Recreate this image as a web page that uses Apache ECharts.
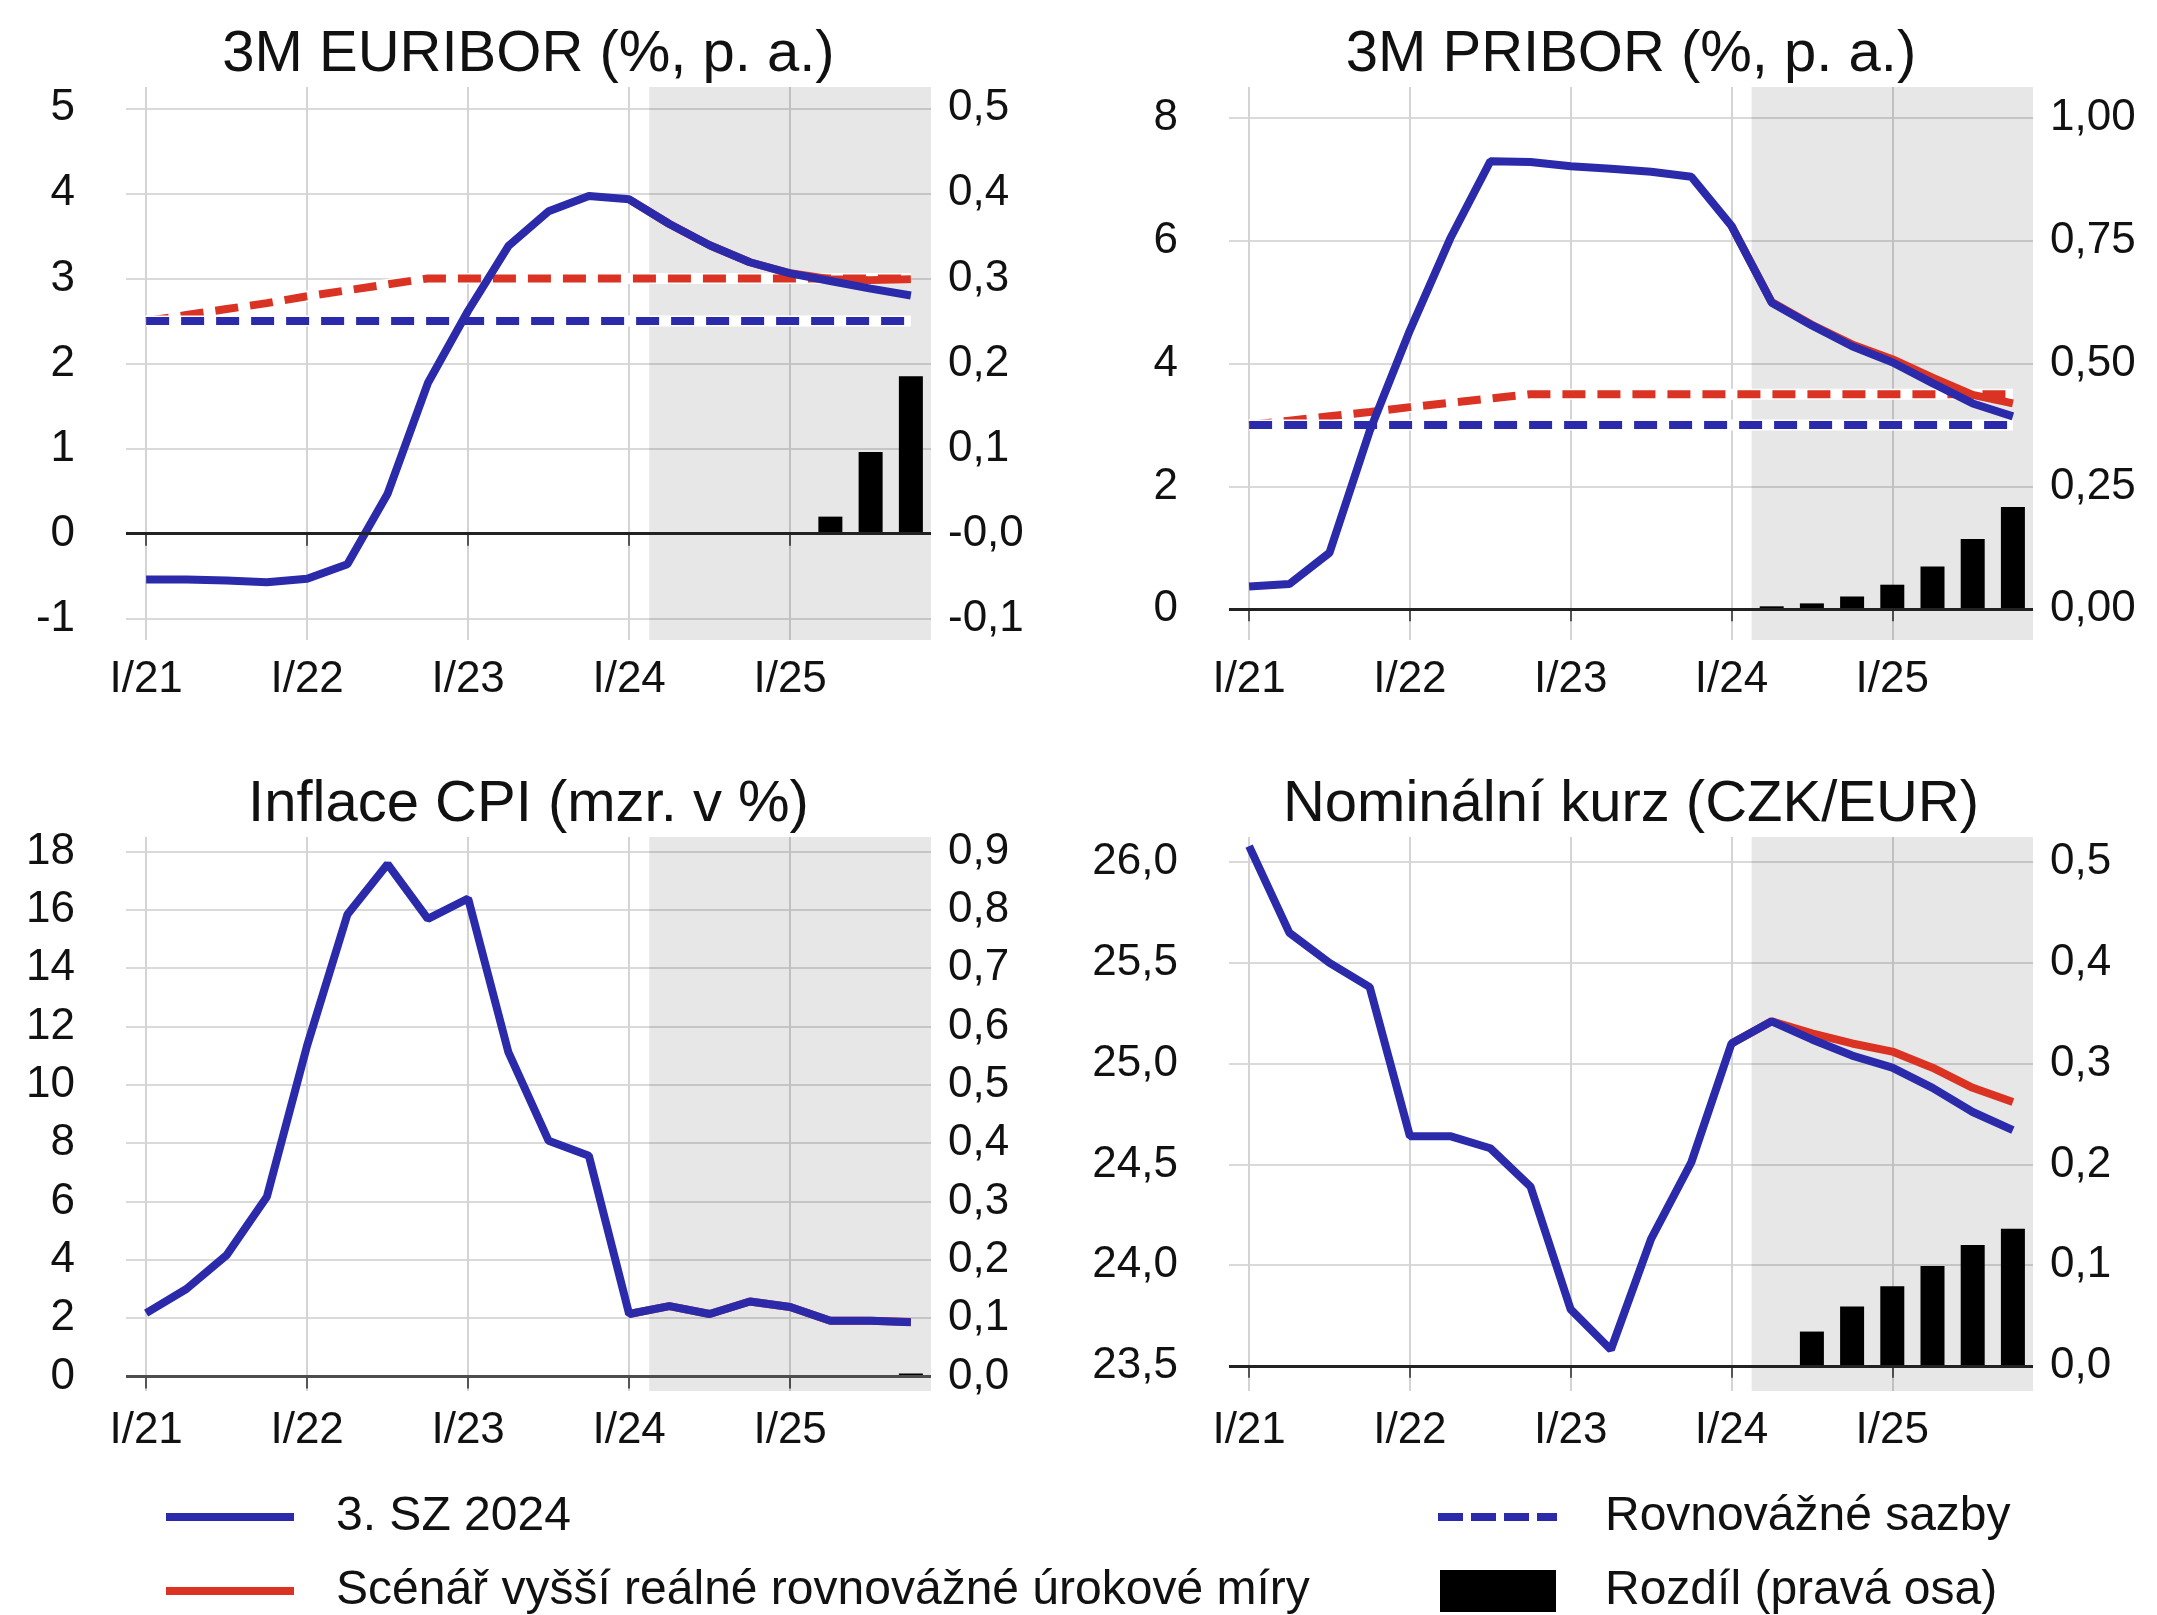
<!DOCTYPE html>
<html>
<head>
<meta charset="utf-8">
<title>Scénář vyšší reálné rovnovážné úrokové míry</title>
<script src="https://cdn.jsdelivr.net/npm/echarts@6.0.0/dist/echarts.min.js"></script>
<style>
  html, body { margin: 0; padding: 0; background: #fff; }
  #chart { width: 2157px; height: 1615px; }
</style>
</head>
<body>
<div id="chart"></div>
<script>
// čtvrtletí
const quarters = ['I/21', 'II/21', 'III/21', 'IV/21', 'I/22', 'II/22', 'III/22', 'IV/22',
  'I/23', 'II/23', 'III/23', 'IV/23', 'I/24', 'II/24', 'III/24', 'IV/24',
  'I/25', 'II/25', 'III/25', 'IV/25']
const xTickLabels = ['I/21', 'I/22', 'I/23', 'I/24', 'I/25']
const forecastFrom = 'II/24'   // začátek stínované prognózy

// 3M EURIBOR (%, p. a.)
const euriborBase = [-0.54, -0.54, -0.55, -0.57, -0.53, -0.36, 0.47, 1.77, 2.62, 3.38, 3.79, 3.97,
  3.93, 3.64, 3.39, 3.19, 3.06, 2.97, 2.88, 2.80]
const euriborScen = [null, null, null, null, null, null, null, null, null, null, null, null,
  3.93, 3.64, 3.39, 3.19, 3.06, 2.99, 2.98, 2.99]
const euriborEq = [2.5, 2.5, 2.5, 2.5, 2.5, 2.5, 2.5, 2.5, 2.5, 2.5, 2.5, 2.5,
  2.5, 2.5, 2.5, 2.5, 2.5, 2.5, 2.5, 2.5]
const euriborEqScen = [2.50, 2.57, 2.64, 2.71, 2.79, 2.86, 2.93, 3.00, 3.00, 3.00, 3.00, 3.00,
  3.00, 3.00, 3.00, 3.00, 3.00, 3.00, 3.00, 3.00]
const euriborDiff = [null, null, null, null, null, null, null, null, null, null, null, null,
  0, 0, 0, 0, 0, 0.02, 0.096, 0.185]
const euriborLeftTicks = [-1, 0, 1, 2, 3, 4, 5]
const euriborLeftLabels = ['-1', '0', '1', '2', '3', '4', '5']
const euriborRightTicks = [-0.1, 0, 0.1, 0.2, 0.3, 0.4, 0.5]
const euriborRightLabels = ['-0,1', '-0,0', '0,1', '0,2', '0,3', '0,4', '0,5']

// 3M PRIBOR (%, p. a.)
const priborBase = [0.37, 0.41, 0.92, 2.90, 4.54, 6.03, 7.29, 7.28, 7.21, 7.17, 7.12, 7.04,
  6.24, 4.99, 4.62, 4.28, 4.02, 3.68, 3.35, 3.14]
const priborScen = [null, null, null, null, null, null, null, null, null, null, null, null,
  6.24, 5.00, 4.63, 4.31, 4.07, 3.77, 3.49, 3.35]
const priborEq = [3.0, 3.0, 3.0, 3.0, 3.0, 3.0, 3.0, 3.0, 3.0, 3.0, 3.0, 3.0,
  3.0, 3.0, 3.0, 3.0, 3.0, 3.0, 3.0, 3.0]
const priborEqScen = [3.00, 3.07, 3.14, 3.21, 3.29, 3.36, 3.43, 3.50, 3.50, 3.50, 3.50, 3.50,
  3.50, 3.50, 3.50, 3.50, 3.50, 3.50, 3.50, 3.50]
const priborDiff = [null, null, null, null, null, null, null, null, null, null, null, null,
  0, 0.006, 0.012, 0.026, 0.05, 0.087, 0.143, 0.208]
const priborLeftTicks = [0, 2, 4, 6, 8]
const priborLeftLabels = ['0', '2', '4', '6', '8']
const priborRightTicks = [0, 0.25, 0.5, 0.75, 1]
const priborRightLabels = ['0,00', '0,25', '0,50', '0,75', '1,00']

// Inflace CPI (mzr. v %)
const cpiBase = [2.17, 3.00, 4.16, 6.16, 11.35, 15.84, 17.57, 15.69, 16.39, 11.12, 8.08, 7.57,
  2.14, 2.41, 2.14, 2.57, 2.38, 1.91, 1.91, 1.86]
const cpiScen = [null, null, null, null, null, null, null, null, null, null, null, null,
  2.14, 2.41, 2.14, 2.57, 2.38, 1.91, 1.91, 1.87]
const cpiDiff = [null, null, null, null, null, null, null, null, null, null, null, null,
  0, 0, 0, 0, 0, 0, 0, 0.005]
const cpiLeftTicks = [0, 2, 4, 6, 8, 10, 12, 14, 16, 18]
const cpiLeftLabels = ['0', '2', '4', '6', '8', '10', '12', '14', '16', '18']
const cpiRightTicks = [0, 0.1, 0.2, 0.3, 0.4, 0.5, 0.6, 0.7, 0.8, 0.9]
const cpiRightLabels = ['0,0', '0,1', '0,2', '0,3', '0,4', '0,5', '0,6', '0,7', '0,8', '0,9']

// Nominální kurz (CZK/EUR)
const kurzBase = [26.08, 25.65, 25.50, 25.38, 24.64, 24.64, 24.58, 24.39, 23.78, 23.58, 24.13, 24.51,
  25.10, 25.21, 25.12, 25.04, 24.98, 24.88, 24.76, 24.67]
const kurzScen = [null, null, null, null, null, null, null, null, null, null, null, null,
  25.10, 25.21, 25.15, 25.10, 25.06, 24.98, 24.88, 24.81]
const kurzDiff = [null, null, null, null, null, null, null, null, null, null, null, null,
  0, 0, 0.034, 0.059, 0.079, 0.099, 0.120, 0.136]
const kurzLeftTicks = [23.5, 24, 24.5, 25, 25.5, 26]
const kurzLeftLabels = ['23,5', '24,0', '24,5', '25,0', '25,5', '26,0']
const kurzRightTicks = [0, 0.1, 0.2, 0.3, 0.4, 0.5]
const kurzRightLabels = ['0,0', '0,1', '0,2', '0,3', '0,4', '0,5']

const FONT = '"Liberation Sans", Arial, Helvetica, sans-serif'
const TXT = '#111111'
const BLUE = '#2A2AAA'
const RED = '#DA3324'
const LW = 8

const panels = [
  { title: '3M EURIBOR (%, p. a.)', left: 126, top: 87, width: 805, height: 553,
    base: euriborBase, scen: euriborScen, eq: euriborEq, eqScen: euriborEqScen, diff: euriborDiff,
    lt: euriborLeftTicks, ll: euriborLeftLabels, rt: euriborRightTicks, rl: euriborRightLabels,
    zero: { color: '#222222', width: 3 } },
  { title: '3M PRIBOR (%, p. a.)', left: 1229, top: 87, width: 804, height: 553,
    base: priborBase, scen: priborScen, eq: priborEq, eqScen: priborEqScen, diff: priborDiff,
    lt: priborLeftTicks, ll: priborLeftLabels, rt: priborRightTicks, rl: priborRightLabels,
    zero: { color: '#222222', width: 3 } },
  { title: 'Inflace CPI (mzr. v %)', left: 126, top: 837, width: 805, height: 554,
    base: cpiBase, scen: cpiScen, diff: cpiDiff,
    lt: cpiLeftTicks, ll: cpiLeftLabels, rt: cpiRightTicks, rl: cpiRightLabels,
    zero: { color: '#4d4d4d', width: 3 } },
  { title: 'Nominální kurz (CZK/EUR)', left: 1229, top: 837, width: 804, height: 554,
    base: kurzBase, scen: kurzScen, diff: kurzDiff,
    lt: kurzLeftTicks, ll: kurzLeftLabels, rt: kurzRightTicks, rl: kurzRightLabels,
    zero: { color: '#222222', width: 3 } }
]

const xTicks = xTickLabels.map(l => quarters.indexOf(l))
const shadeFrom = quarters.indexOf(forecastFrom) - 0.5
const xMax = quarters.length - 0.5

function pairs(arr) {
  return arr.map((v, i) => [i, v])
}

function labelOf(ticks, labels) {
  return v => {
    const i = ticks.findIndex(t => Math.abs(t - v) < 1e-7)
    return i < 0 ? '' : labels[i]
  }
}

// okraj rozsahu osy = čtvrtina kroku
function range(ticks) {
  const step = ticks[1] - ticks[0]
  return [ticks[0] - step / 4, ticks[ticks.length - 1] + step / 4]
}

// jedna položka legendy = jedna komponenta (kvůli přesnému umístění)
function legendItem(name, left, centerY, icon, w, h, gap) {
  return {
    data: [{ name: name, icon: icon }],
    left: left, top: centerY - 24, padding: 0,
    itemWidth: w, itemHeight: h, selectedMode: false, symbolKeepAspect: false,
    textStyle: { fontSize: 48, lineHeight: 48, color: TXT, fontFamily: FONT, padding: [0, 0, 0, gap] }
  }
}

const dashIcon = 'path://M0,0h25v8h-25z M33,0h25v8h-25z M66,0h25v8h-25z M99,0h20v8h-20z'

const option = {
  animation: false,
  backgroundColor: '#ffffff',
  textStyle: { fontFamily: FONT, color: TXT },
  title: [],
  grid: [],
  xAxis: [],
  yAxis: [],
  series: [],
  legend: [
    legendItem('3. SZ 2024', 166, 1517, 'rect', 128, 8, 37),
    legendItem('Scénář vyšší reálné rovnovážné úrokové míry', 166, 1591, 'rect', 128, 8, 37),
    legendItem('Rovnovážné sazby', 1438, 1517, dashIcon, 119, 8, 43),
    legendItem('Rozdíl (pravá osa)', 1440, 1591, 'rect', 116, 42, 44)
  ]
}

panels.forEach((p, k) => {
  option.title.push({
    text: p.title,
    left: p.left + p.width / 2, top: p.top - 61, textAlign: 'center', padding: 0,
    textStyle: { fontSize: 58, fontWeight: 'normal', color: TXT, fontFamily: FONT }
  })
  option.grid.push({ left: p.left, top: p.top, width: p.width, height: p.height, outerBoundsMode: 'none' })
  option.xAxis.push({
    type: 'value', gridIndex: k, min: -0.5, max: xMax,
    axisLine: { show: false },
    axisTick: { show: true, customValues: xTicks, length: 12, lineStyle: { color: '#555555', width: 2 } },
    axisLabel: { customValues: xTicks, formatter: v => quarters[Math.round(v)],
      fontSize: 44, margin: 18, color: TXT, fontFamily: FONT },
    splitLine: { show: true, lineStyle: { color: '#d4d4d4', width: 2 } }
  })
  const lr = range(p.lt)
  option.yAxis.push({
    type: 'value', gridIndex: k, position: 'left', min: lr[0], max: lr[1],
    axisLine: { show: false },
    axisTick: { show: false, customValues: p.lt },
    axisLabel: { customValues: p.lt, formatter: labelOf(p.lt, p.ll), padding: [5, 0, 0, 0],
      fontSize: 44, margin: 51, color: TXT, fontFamily: FONT },
    splitLine: { show: true, lineStyle: { color: '#dadada', width: 2 } }
  })
  const rr = range(p.rt)
  option.yAxis.push({
    type: 'value', gridIndex: k, position: 'right', min: rr[0], max: rr[1],
    axisLine: { show: false },
    axisTick: { show: false, customValues: p.rt },
    axisLabel: { customValues: p.rt, formatter: labelOf(p.rt, p.rl), padding: [5, 0, 0, 0],
      fontSize: 44, margin: 17, color: TXT, fontFamily: FONT },
    splitLine: { show: false }
  })

  const common = { xAxisIndex: k, yAxisIndex: 2 * k, symbol: 'none', silent: true, emphasis: { disabled: true } }

  // rozdíl (pravá osa) + stínování prognózy + nulová linie
  option.series.push({
    name: 'Rozdíl (pravá osa)', type: 'bar', xAxisIndex: k, yAxisIndex: 2 * k + 1,
    barWidth: 24, itemStyle: { color: '#000000' }, silent: true,
    data: pairs(p.diff),
    markArea: {
      silent: true,
      itemStyle: { color: 'rgba(0,0,0,0.095)' },
      data: [[{ xAxis: shadeFrom }, { xAxis: xMax }]]
    },
    markLine: {
      silent: true, symbol: ['none', 'none'], label: { show: false },
      lineStyle: { color: p.zero.color, width: p.zero.width, type: 'solid' },
      data: [{ yAxis: 0 }]
    }
  })

  if (p.eq) {
    option.series.push(Object.assign({}, common, {
      name: 'podklad1', type: 'line', data: pairs(p.eqScen),
      lineStyle: { color: '#ffffff', width: LW + 3 }
    }))
    option.series.push(Object.assign({}, common, {
      name: 'Rovnovážné sazby – scénář', type: 'line', data: pairs(p.eqScen),
      itemStyle: { color: RED },
      lineStyle: { color: RED, width: LW, type: [23, 12] }
    }))
    option.series.push(Object.assign({}, common, {
      name: 'podklad2', type: 'line', data: pairs(p.eq),
      lineStyle: { color: '#ffffff', width: LW + 3 }
    }))
    option.series.push(Object.assign({}, common, {
      name: 'Rovnovážné sazby', type: 'line', data: pairs(p.eq),
      itemStyle: { color: BLUE },
      lineStyle: { color: BLUE, width: LW, type: [23, 12] }
    }))
  }

  option.series.push(Object.assign({}, common, {
    name: 'Scénář vyšší reálné rovnovážné úrokové míry', type: 'line', data: pairs(p.scen),
    itemStyle: { color: RED },
    lineStyle: { color: RED, width: LW }
  }))
  option.series.push(Object.assign({}, common, {
    name: '3. SZ 2024', type: 'line', data: pairs(p.base),
    itemStyle: { color: BLUE },
    lineStyle: { color: BLUE, width: LW }
  }))
})

const chart = echarts.init(document.getElementById('chart'), null, { renderer: 'canvas' })
chart.setOption(option)
window.addEventListener('resize', () => chart.resize())
</script>
</body>
</html>
